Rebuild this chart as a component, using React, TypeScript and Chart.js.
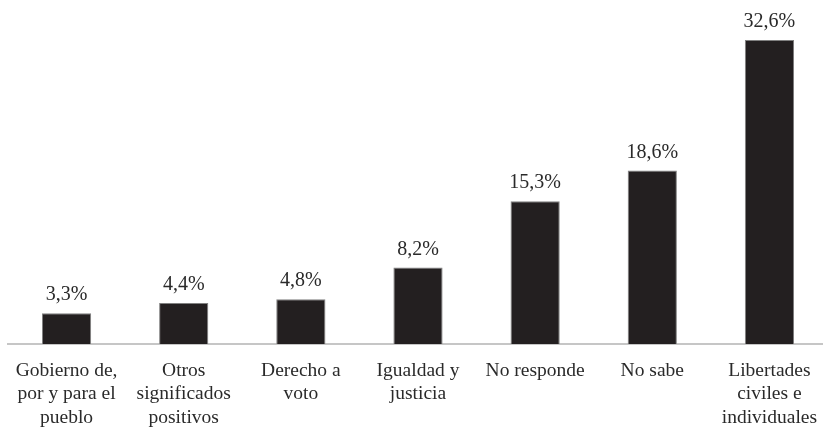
import React, { useEffect, useRef } from "react";
import { Chart, registerables } from "chart.js";

Chart.register(...registerables);

const categories: (string | string[])[] = [
  ["Gobierno de,", "por y para el", "pueblo"],
  ["Otros", "significados", "positivos"],
  ["Derecho a", "voto"],
  ["Igualdad y", "justicia"],
  "No responde",
  "No sabe",
  ["Libertades", "civiles e", "individuales"],
];
const values: number[] = [3.3, 4.4, 4.8, 8.2, 15.3, 18.6, 32.6];
const valueLabels: string[] = ["3,3%", "4,4%", "4,8%", "8,2%", "15,3%", "18,6%", "32,6%"];

const FONT = "'Liberation Serif', 'DejaVu Serif', serif";

const labelPlugin = {
  id: "barLabels",
  afterDatasetsDraw(chart: any) {
    const ctx = chart.ctx;
    const meta = chart.getDatasetMeta(0);
    ctx.save();
    ctx.font = `20px ${FONT}`;
    ctx.fillStyle = "#2a2a2a";
    ctx.textAlign = "center";
    ctx.textBaseline = "alphabetic";
    meta.data.forEach((bar: any, i: number) => {
      ctx.fillText(valueLabels[i], bar.x, bar.y - 13);
    });
    ctx.restore();
  },
};

export default function App() {
  const ref = useRef<HTMLCanvasElement>(null);
  useEffect(() => {
    document.body.style.margin = "0";
    document.body.style.overflow = "hidden";
    const chart = new Chart(ref.current!, {
      type: "bar",
      data: {
        labels: categories,
        datasets: [
          {
            data: values,
            backgroundColor: "#231f20",
            borderColor: "#808080",
            borderWidth: 1,
            categoryPercentage: 1,
            barPercentage: 0.42,
          },
        ],
      },
      options: {
        animation: false,
        responsive: false,
        maintainAspectRatio: false,
        layout: { padding: { left: 8, right: 0, top: 0, bottom: 0 } },
        plugins: { legend: { display: false }, tooltip: { enabled: false } },
        scales: {
          x: {
            grid: { display: false, drawTicks: false },
            border: { display: true, color: "#c6c6c6", width: 2 },
            ticks: {
              color: "#2a2a2a",
              font: { family: FONT, size: 19.5, lineHeight: 1.2 },
              padding: 15,
              maxRotation: 0,
              autoSkip: false,
            },
            afterFit: (scale: any) => {
              scale.height = 87;
              scale.paddingLeft = 0;
              scale.paddingRight = 0;
            },
          },
          y: {
            display: false,
            min: 0,
            max: 36.9,
          },
        },
      },
      plugins: [labelPlugin],
    });
    return () => chart.destroy();
  }, []);
  return (
    <div style={{ width: 828, height: 431 }}>
      <canvas ref={ref} width={828} height={431} />
    </div>
  );
}
